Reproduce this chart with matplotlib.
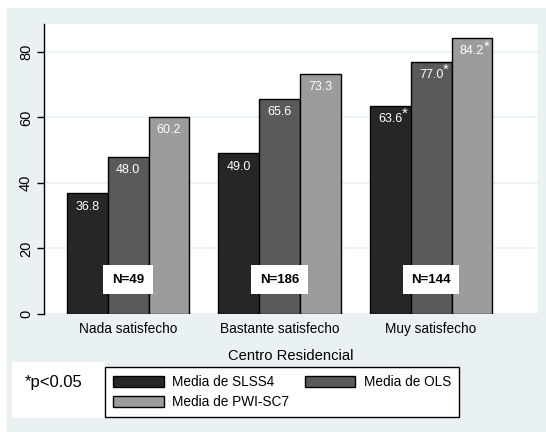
import numpy as np
import matplotlib.pyplot as plt
from matplotlib.patches import Rectangle, Patch

plt.rcParams['font.family'] = ['Liberation Sans', 'DejaVu Sans']

# data
categories = ["Nada satisfecho", "Bastante satisfecho", "Muy satisfecho"]
slss4 = [36.8, 49.0, 63.6]
ols = [48.0, 65.6, 77.0]
pwi = [60.2, 73.3, 84.2]
sig_slss4 = [False, False, True]
sig_ols = [False, False, True]
sig_pwi = [False, False, True]
n_labels = ["N=49", "N=186", "N=144"]
series_names = ["Media de SLSS4", "Media de OLS", "Media de PWI-SC7"]
colors = ["#262626", "#5a5a5a", "#9c9c9c"]

bg = "#eaf1f3"
fig = plt.figure(figsize=(5.46, 4.32), dpi=100, facecolor="white")
# background with thin white strip at top/left
fig.patches.append(Rectangle((7 / 546, 0), 1, 1 - 8 / 432, transform=fig.transFigure,
                             facecolor=bg, edgecolor="none", zorder=-10))

ax = fig.add_axes([44 / 546, 118 / 432, 494 / 546, 290 / 432])
ax.set_facecolor("white")

x = np.arange(len(categories))
w = 0.27
all_series = [slss4, ols, pwi]
all_sig = [sig_slss4, sig_ols, sig_pwi]
for i, (vals, sig, c, name) in enumerate(zip(all_series, all_sig, colors, series_names)):
    pos = x + (i - 1) * w
    ax.bar(pos, vals, width=w, color=c, edgecolor="black", linewidth=1.0, label=name, zorder=3)
    for p, v, s in zip(pos, vals, sig):
        ax.text(p, v - 4.0, f"{v:.1f}", ha="center", va="center", color="white",
                fontsize=9, zorder=4)
        if s:
            ax.text(p + 0.08, v - 2.6, "*", ha="left", va="center", color="white",
                    fontsize=11, zorder=4)

for xi, lab in zip(x, n_labels):
    ax.text(xi, 10.4, lab, ha="center", va="center", fontsize=9.5, fontweight="bold",
            color="black", zorder=5,
            bbox=dict(boxstyle="square,pad=0.65", facecolor="white", edgecolor="none"))

ax.set_xlim(-0.555, 2.706)
ax.set_ylim(0, 88.5)
ax.set_yticks([0, 20, 40, 60, 80])
ax.set_yticklabels(["0", "20", "40", "60", "80"], rotation=90, va="center", fontsize=10.5)
ax.set_xticks(x)
ax.set_xticklabels(categories, fontsize=9.8)
ax.tick_params(axis="x", length=0, pad=6)
ax.tick_params(axis="y", length=5, width=1, pad=3)
ax.yaxis.grid(True, color=bg, linewidth=1.2, zorder=0)
ax.set_axisbelow(True)
for s in ["top", "right", "bottom"]:
    ax.spines[s].set_visible(False)
ax.spines["left"].set_linewidth(1.0)
ax.set_xlabel("Centro Residencial", fontsize=10.6, labelpad=9)

# legend, row-wise order
handles = [Patch(facecolor=c, edgecolor="black", linewidth=1.0) for c in colors]
order = [0, 2, 1]
leg = fig.legend([handles[k] for k in order], [series_names[k] for k in order],
                 ncol=2, loc="upper left", bbox_to_anchor=(105 / 546, 1 - 367 / 432),
                 fontsize=9.8, frameon=True, fancybox=False, edgecolor="black",
                 framealpha=1.0, facecolor="white",
                 handlelength=3.7, handleheight=0.8, columnspacing=1.2,
                 borderpad=0.6, labelspacing=0.45, handletextpad=0.6,
                 borderaxespad=0)
leg.get_frame().set_linewidth(1.0)

fig.patches.append(Rectangle((12 / 546, 1 - 418 / 432), 93 / 546, 56 / 432,
                             transform=fig.transFigure, facecolor="white",
                             edgecolor="none", zorder=-5))
fig.text(25 / 546, 1 - 383 / 432, "*p<0.05", fontsize=12, va="center", ha="left")

fig.savefig("out.png", dpi=100, facecolor=fig.get_facecolor())
